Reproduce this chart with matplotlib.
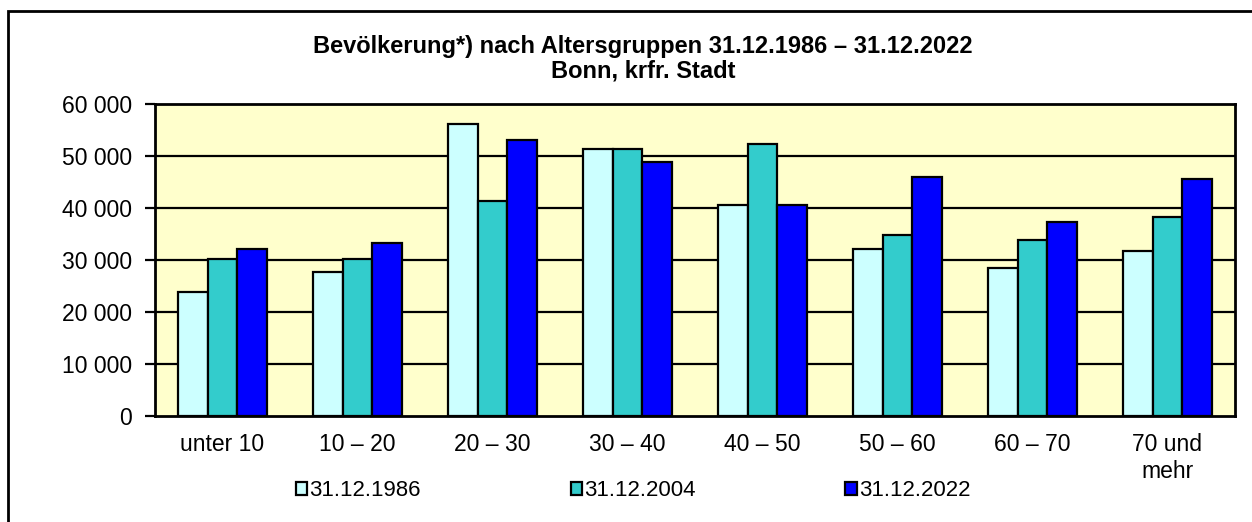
'''Bevoelkerung nach Altersgruppen, Bonn'''

import numpy as np
import matplotlib
matplotlib.use('Agg')
import matplotlib.pyplot as plt
from matplotlib.patches import Rectangle
from matplotlib.ticker import FuncFormatter

plt.rcParams['font.family'] = ['Liberation Sans', 'DejaVu Sans']

groups = ['unter 10', '10 – 20', '20 – 30', '30 – 40', '40 – 50',
          '50 – 60', '60 – 70', '70 und\nmehr']
series_names = ['31.12.1986', '31.12.2004', '31.12.2022']
pop_1986 = [23900, 27600, 56200, 51300, 40500, 32200, 28500, 31700]
pop_2004 = [30100, 30200, 41400, 51300, 52400, 34800, 33900, 38300]
pop_2022 = [32200, 33300, 53100, 48900, 40600, 45900, 37300, 45600]
yticks = [0, 10000, 20000, 30000, 40000, 50000, 60000]

colours = ['#CCFFFF', '#33CCCC', '#0000FF']

W, H = 1252, 522
fig = plt.figure(figsize=(W / 100, H / 100), dpi=100)
fig.patch.set_facecolor('white')

# outer frame (cut off at right and bottom like the original)
fig.add_artist(Rectangle((8 / W, -0.05), 1.1, 1 - 11 / H + 0.05,
                         transform=fig.transFigure, fill=False,
                         edgecolor='black', linewidth=2))

ax = fig.add_axes([155 / W, (H - 416) / H, 1080 / W, 312 / H])
ax.set_facecolor('#FFFFCC')

x = np.arange(len(groups))
bw = 0.222
for i, (vals, col, name) in enumerate(zip([pop_1986, pop_2004, pop_2022],
                                          colours, series_names)):
    ax.bar(x + (i - 1) * bw, vals, bw, color=col, edgecolor='black',
           linewidth=1.6, label=name, zorder=3)

ax.set_xlim(-0.5, len(groups) - 0.5)
ax.set_ylim(0, 60000)
ax.set_yticks(yticks)
ax.yaxis.set_major_formatter(FuncFormatter(lambda v, p: '{:,.0f}'.format(v).replace(',', ' ')))
for v in yticks[1:-1]:
    ax.axhline(v, color='black', linewidth=1.6, zorder=1)

ax.set_xticks(x)
ax.set_xticklabels(groups, fontsize=16.5, linespacing=1.25)
ax.tick_params(axis='x', length=0, pad=12)
ax.tick_params(axis='y', labelsize=16.5, length=7, width=1.6, pad=9.7,
               direction='out')
for s in ax.spines.values():
    s.set_linewidth(2)
    s.set_color('black')

fig.text(643 / W, 1 - 47 / H, 'Bevölkerung*) nach Altersgruppen 31.12.1986 – 31.12.2022',
         ha='center', va='center', fontsize=17, fontweight='bold')
fig.text(643 / W, 1 - 71 / H, 'Bonn, krfr. Stadt',
         ha='center', va='center', fontsize=17, fontweight='bold')

leg = fig.legend(loc='center', bbox_to_anchor=(633 / W, 1 - 491 / H), ncol=3,
                 frameon=False, fontsize=16, handlelength=0.5, handleheight=0.5,
                 handletextpad=0.1, columnspacing=6.75)

fig.savefig('out.png', dpi=100)
